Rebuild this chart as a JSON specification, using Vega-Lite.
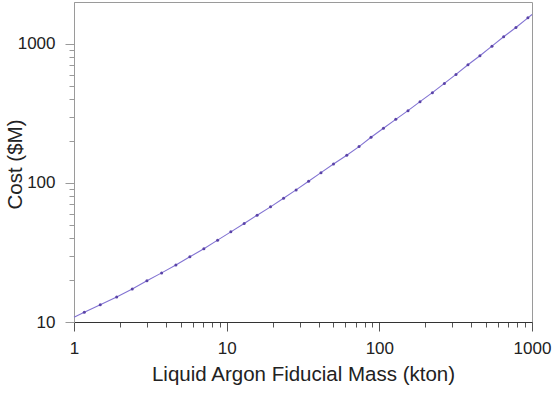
{
  "$schema": "https://vega.github.io/schema/vega-lite/v6.json",
  "width": 458,
  "height": 320,
  "autosize": {"type": "none"},
  "padding": {"left": 74, "top": 2, "right": 22, "bottom": 73},
  "background": "white",
  "config": {
    "view": {"stroke": "#9a9a9a", "strokeWidth": 1},
    "font": "Liberation Sans",
    "axis": {
      "grid": false,
      "labelFont": "Liberation Sans",
      "titleFont": "Liberation Sans",
      "labelFontSize": 17,
      "titleFontSize": 20.5,
      "titleFontWeight": "normal",
      "labelColor": "#222222",
      "titleColor": "#222222",
      "labelPadding": 9,
      "labelOverlap": false,
      "labelFlush": false
    }
  },
  "datasets": {
    "curve": [
      {"mass": 1, "cost": 10.83},
      {"mass": 1.168, "cost": 11.74},
      {"mass": 1.486, "cost": 13.31},
      {"mass": 1.903, "cost": 15.12},
      {"mass": 2.407, "cost": 17.25},
      {"mass": 3.004, "cost": 19.8},
      {"mass": 3.75, "cost": 22.55},
      {"mass": 4.65, "cost": 25.66},
      {"mass": 5.74, "cost": 29.43},
      {"mass": 7.09, "cost": 33.59},
      {"mass": 8.72, "cost": 38.79},
      {"mass": 10.65, "cost": 44.49},
      {"mass": 13.02, "cost": 51.1},
      {"mass": 15.83, "cost": 58.6},
      {"mass": 19.38, "cost": 67.3},
      {"mass": 23.58, "cost": 77.7},
      {"mass": 28.5, "cost": 89.1},
      {"mass": 34.4, "cost": 102.8},
      {"mass": 41.48, "cost": 118.6},
      {"mass": 50.08, "cost": 136.9},
      {"mass": 61.18, "cost": 158.1},
      {"mass": 73.65, "cost": 182.5},
      {"mass": 88.25, "cost": 212.9},
      {"mass": 106.4, "cost": 247.0},
      {"mass": 128.1, "cost": 286.6},
      {"mass": 154.1, "cost": 330.9},
      {"mass": 184.7, "cost": 384.0},
      {"mass": 222.6, "cost": 445.7},
      {"mass": 266.7, "cost": 519.6},
      {"mass": 317.8, "cost": 603.0},
      {"mass": 380.7, "cost": 707.9},
      {"mass": 456.0, "cost": 821.4},
      {"mass": 546.6, "cost": 962.7},
      {"mass": 651.9, "cost": 1124},
      {"mass": 784.6, "cost": 1311},
      {"mass": 940.1, "cost": 1539},
      {"mass": 1000, "cost": 1626}
    ],
    "dots": [
      {"mass": 1.168, "cost": 11.74},
      {"mass": 1.486, "cost": 13.31},
      {"mass": 1.903, "cost": 15.12},
      {"mass": 2.407, "cost": 17.25},
      {"mass": 3.004, "cost": 19.8},
      {"mass": 3.75, "cost": 22.55},
      {"mass": 4.65, "cost": 25.66},
      {"mass": 5.74, "cost": 29.43},
      {"mass": 7.09, "cost": 33.59},
      {"mass": 8.72, "cost": 38.79},
      {"mass": 10.65, "cost": 44.49},
      {"mass": 13.02, "cost": 51.1},
      {"mass": 15.83, "cost": 58.6},
      {"mass": 19.38, "cost": 67.3},
      {"mass": 23.58, "cost": 77.7},
      {"mass": 28.5, "cost": 89.1},
      {"mass": 34.4, "cost": 102.8},
      {"mass": 41.48, "cost": 118.6},
      {"mass": 50.08, "cost": 136.9},
      {"mass": 61.18, "cost": 158.1},
      {"mass": 73.65, "cost": 182.5},
      {"mass": 88.25, "cost": 212.9},
      {"mass": 106.4, "cost": 247.0},
      {"mass": 128.1, "cost": 286.6},
      {"mass": 154.1, "cost": 330.9},
      {"mass": 184.7, "cost": 384.0},
      {"mass": 222.6, "cost": 445.7},
      {"mass": 266.7, "cost": 519.6},
      {"mass": 317.8, "cost": 603.0},
      {"mass": 380.7, "cost": 707.9},
      {"mass": 456.0, "cost": 821.4},
      {"mass": 546.6, "cost": 962.7},
      {"mass": 651.9, "cost": 1124},
      {"mass": 784.6, "cost": 1311},
      {"mass": 940.1, "cost": 1539}
    ]
  },
  "encoding": {
    "x": {
      "field": "mass",
      "type": "quantitative",
      "scale": {"type": "log", "domain": [1, 1000], "nice": false},
      "axis": {
        "title": "Liquid Argon Fiducial Mass (kton)",
        "values": [1,2,3,4,5,6,7,8,9,10,20,30,40,50,60,70,80,90,100,200,300,400,500,600,700,800,900,1000],
        "format": "d",
        "labelExpr": "indexof([1,10,100,1000], datum.value) >= 0 ? datum.label : ''",
        "tickSize": {"condition": {"test": "indexof([1,10,100,1000], datum.value) >= 0", "value": 9}, "value": 5},
        "domainColor": "#333333",
        "tickColor": "#555555",
        "titlePadding": 8
      }
    },
    "y": {
      "field": "cost",
      "type": "quantitative",
      "scale": {"type": "log", "domain": [10, 2000], "nice": false},
      "axis": {
        "title": "Cost ($M)",
        "values": [10,20,30,40,50,60,70,80,90,100,200,300,400,500,600,700,800,900,1000],
        "format": "d",
        "labelExpr": "indexof([10,100,1000], datum.value) >= 0 ? datum.label : ''",
        "tickSize": {"condition": {"test": "indexof([10,100,1000], datum.value) >= 0", "value": 9}, "value": 5},
        "domainColor": "#9a9a9a",
        "tickColor": "#9a9a9a",
        "labelPadding": 10,
        "titleX": -49,
        "titleY": 162
      }
    }
  },
  "layer": [
    {
      "data": {"name": "curve"},
      "mark": {"type": "line", "color": "#8273d2", "strokeWidth": 1.1}
    },
    {
      "data": {"name": "dots"},
      "mark": {"type": "point", "shape": "circle", "filled": true, "size": 9, "color": "#5a43a8", "opacity": 1}
    }
  ]
}
